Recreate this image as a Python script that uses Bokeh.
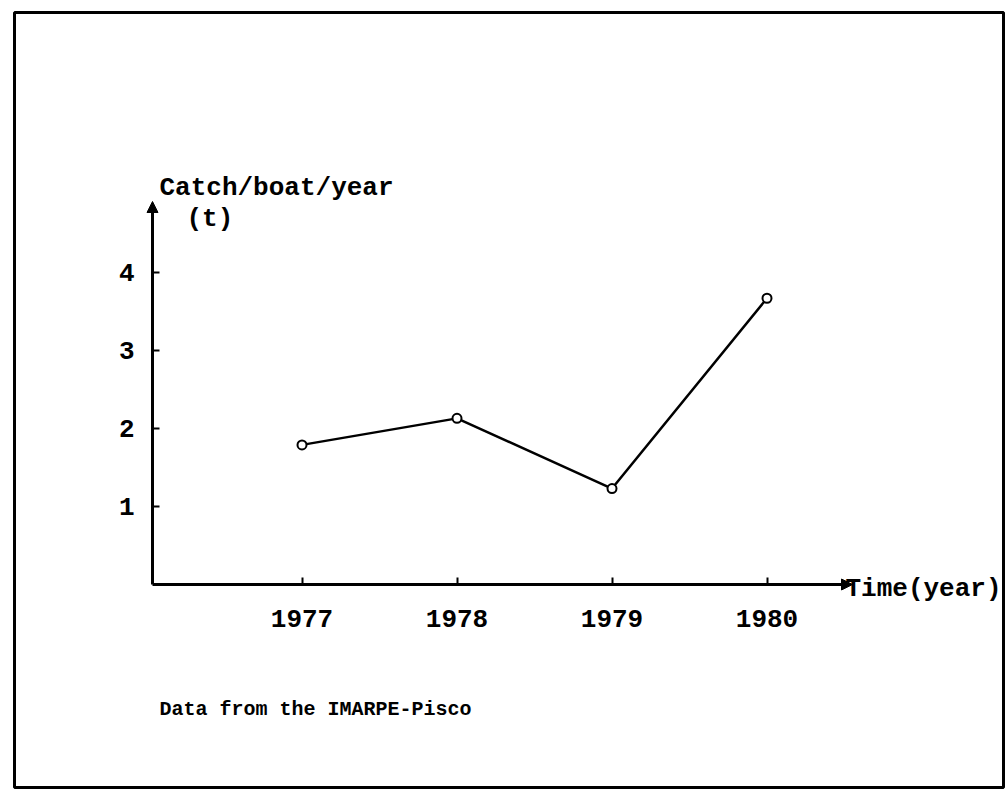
from bokeh.plotting import figure
from bokeh.models import LinearAxis, FixedTicker, Arrow, NormalHead, Label, Range1d
from bokeh.embed import file_html
from bokeh.resources import INLINE

# ---- data ----
years = [1977, 1978, 1979, 1980]
catch_per_boat = [1.79, 2.13, 1.23, 3.67]
y_ticks = [1, 2, 3, 4]
year_labels = {1977: "1977", 1978: "1978", 1979: "1979", 1980: "1980"}
y_title = "Catch/boat/year"
y_unit = "(t)"
x_title = "Time(year)"
source_note = "Data from the IMARPE-Pisco"

# ---- layout helpers (page pixel -> data) ----
X0, XS = 301.5, 155.0
Y0, YS = 584.0, 78.0
def X(px):
    return 1977 + (px - X0) / XS
def Y(py):
    return (Y0 - py) / YS

FONT = "Liberation Mono"

p = figure(width=1005, height=792,
           x_range=Range1d(X(14), X(1003)), y_range=Range1d(Y(787), Y(12)),
           x_axis_type=None, y_axis_type=None,
           output_backend="svg", toolbar_location=None,
           min_border_left=14, min_border_right=2, min_border_top=12, min_border_bottom=5)
p.outline_line_color = "black"
p.outline_line_width = 3
p.background_fill_color = "white"
p.border_fill_color = "white"

common = dict(axis_line_color="black", axis_line_width=3,
              major_tick_line_color="black", major_tick_line_width=2,
              major_tick_out=0, minor_tick_in=0, minor_tick_out=0,
              major_label_text_font=FONT, major_label_text_font_size="26px",
              major_label_text_font_style="bold", major_label_text_color="black")

xaxis = LinearAxis(fixed_location=0, bounds=(X(152), X(848)),
                   ticker=FixedTicker(ticks=years), major_tick_in=7,
                   major_label_overrides=year_labels, major_label_standoff=25, **common)
p.add_layout(xaxis, "below")

yaxis = LinearAxis(fixed_location=X(152), bounds=(0, Y(205)),
                   ticker=FixedTicker(ticks=y_ticks), major_tick_in=7,
                   major_label_standoff=18, **common)
p.add_layout(yaxis, "left")

# arrow heads
p.add_layout(Arrow(end=NormalHead(size=11, fill_color="black", line_color="black"),
                   x_start=X(838), y_start=0, x_end=X(852), y_end=0,
                   line_width=3, line_color="black"))
p.add_layout(Arrow(end=NormalHead(size=11, fill_color="black", line_color="black"),
                   x_start=X(152), y_start=Y(215), x_end=X(152), y_end=Y(201),
                   line_width=3, line_color="black"))

# data
p.line(years, catch_per_boat, line_color="black", line_width=2.5)
p.scatter(years, catch_per_boat, marker="circle", size=9,
          fill_color="white", line_color="black", line_width=2)

# texts
def lab(txt, px, py, size="26px"):
    p.add_layout(Label(x=X(px), y=Y(py), text=txt, text_font=FONT,
                       text_font_size=size, text_font_style="bold",
                       text_color="black", text_baseline="alphabetic",
                       text_align="left"))

lab(y_title, 159, 187)
lab(y_unit, 186, 218)
lab(x_title, 845, 588, size="26px")
lab(source_note, 159, 709, size="20px")

open("out.html", "w").write(file_html(p, INLINE))
